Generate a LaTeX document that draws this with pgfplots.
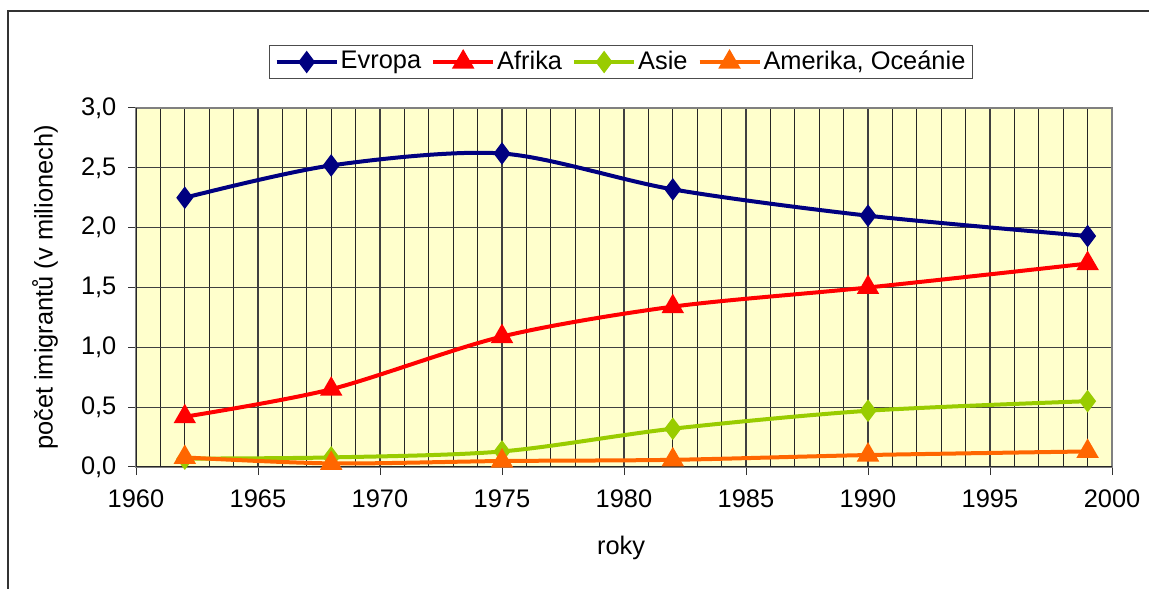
\documentclass[border=0pt]{standalone}
\usepackage{fontspec}
\setmainfont{Liberation Sans}
\usepackage{pgfplots}
\pgfplotsset{compat=1.18}
\definecolor{evr}{RGB}{0,0,128}
\definecolor{afr}{RGB}{255,0,0}
\definecolor{asi}{RGB}{153,204,0}
\definecolor{ame}{RGB}{255,102,0}
\definecolor{bgy}{RGB}{255,255,204}
\begin{document}
\fontsize{25.5}{30}\selectfont
\begin{tikzpicture}
\path[use as bounding box] (0,0) rectangle (1149bp,589bp);
\draw[line width=1.5bp, black!80] (8bp,0) -- (8bp,578bp) -- (1149bp,578bp);
\begin{axis}[
  at={(136bp,122bp)}, anchor=south west,
  scale only axis, width=976bp, height=359bp,
  xmin=1960, xmax=2000, ymin=0, ymax=3,
  xtick={1960,1965,...,2000}, minor x tick num=4,
  ytick={0,0.5,...,3},
  xtick pos=bottom, ytick pos=left,
  tick align=outside, major tick length=8bp, minor tick length=0pt,
  xmajorgrids, xminorgrids, ymajorgrids,
  grid style={black!80, line width=1.2bp},
  minor grid style={black!85, line width=1.2bp},
  major grid style={black!75, line width=1.1bp},
  major tick style={black!80, line width=1bp},
  axis line style={draw=black!50, line width=1.6bp},
  axis background/.style={fill=bgy},
  /pgf/number format/assume math mode=true,
  x tick label style={/pgf/number format/set thousands separator={}, font=\fontsize{25.5}{30}\selectfont},
  y tick label style={/pgf/number format/.cd, fixed, fixed zerofill, precision=1, use comma, /tikz/.cd, font=\fontsize{25.5}{30}\selectfont},
  xticklabel style={yshift=-6bp},
  yticklabel style={xshift=-3bp},
  xlabel={roky},
  ylabel={počet imigrantů (v milionech)},
  xlabel style={at={(axis description cs:0.497,-0.2256)}, anchor=center, font=\fontsize{25.5}{30}\selectfont},
  ylabel style={at={(axis description cs:-0.0932,0.5)}, anchor=center, rotate=0, font=\fontsize{25.5}{30}\selectfont},
  legend columns=4,
  legend style={at={(axis description cs:0.497,1.128)}, anchor=center, draw=black!70, line width=1bp, fill=white,
    font=\fontsize{25.5}{30}\selectfont, inner xsep=5bp, inner ysep=3bp,
    /tikz/every even column/.append style={column sep=8bp}},
  legend cell align=left,
  legend image code/.code={\draw[#1, mark repeat=2, mark phase=2] plot coordinates {(0bp,0bp) (30bp,0bp) (60bp,0bp)};},
  every axis plot/.append style={line width=4bp, smooth, tension=0.5},
]
\addplot[color=evr, mark=diamond*, mark size=8bp, mark options={solid}] coordinates {
(1962,2.25) (1968,2.52) (1975,2.62) (1982,2.32) (1990,2.10) (1999,1.93)};
\addlegendentry{Evropa}
\addplot[color=afr, mark=triangle*, mark size=9bp] coordinates {
(1962,0.42) (1968,0.65) (1975,1.09) (1982,1.34) (1990,1.50) (1999,1.70)};
\addlegendentry{Afrika}
\addplot[color=asi, mark=diamond*, mark size=8bp] coordinates {
(1962,0.07) (1968,0.08) (1975,0.13) (1982,0.32) (1990,0.47) (1999,0.55)};
\addlegendentry{Asie}
\addplot[color=ame, mark=triangle*, mark size=9bp] coordinates {
(1962,0.08) (1968,0.03) (1975,0.05) (1982,0.06) (1990,0.10) (1999,0.13)};
\addlegendentry{Amerika, Oceánie}
\draw[black!85, line width=1.6bp] (rel axis cs:0,1) -- (rel axis cs:0,0) -- (rel axis cs:1,0);
\end{axis}
\end{tikzpicture}
\end{document}
